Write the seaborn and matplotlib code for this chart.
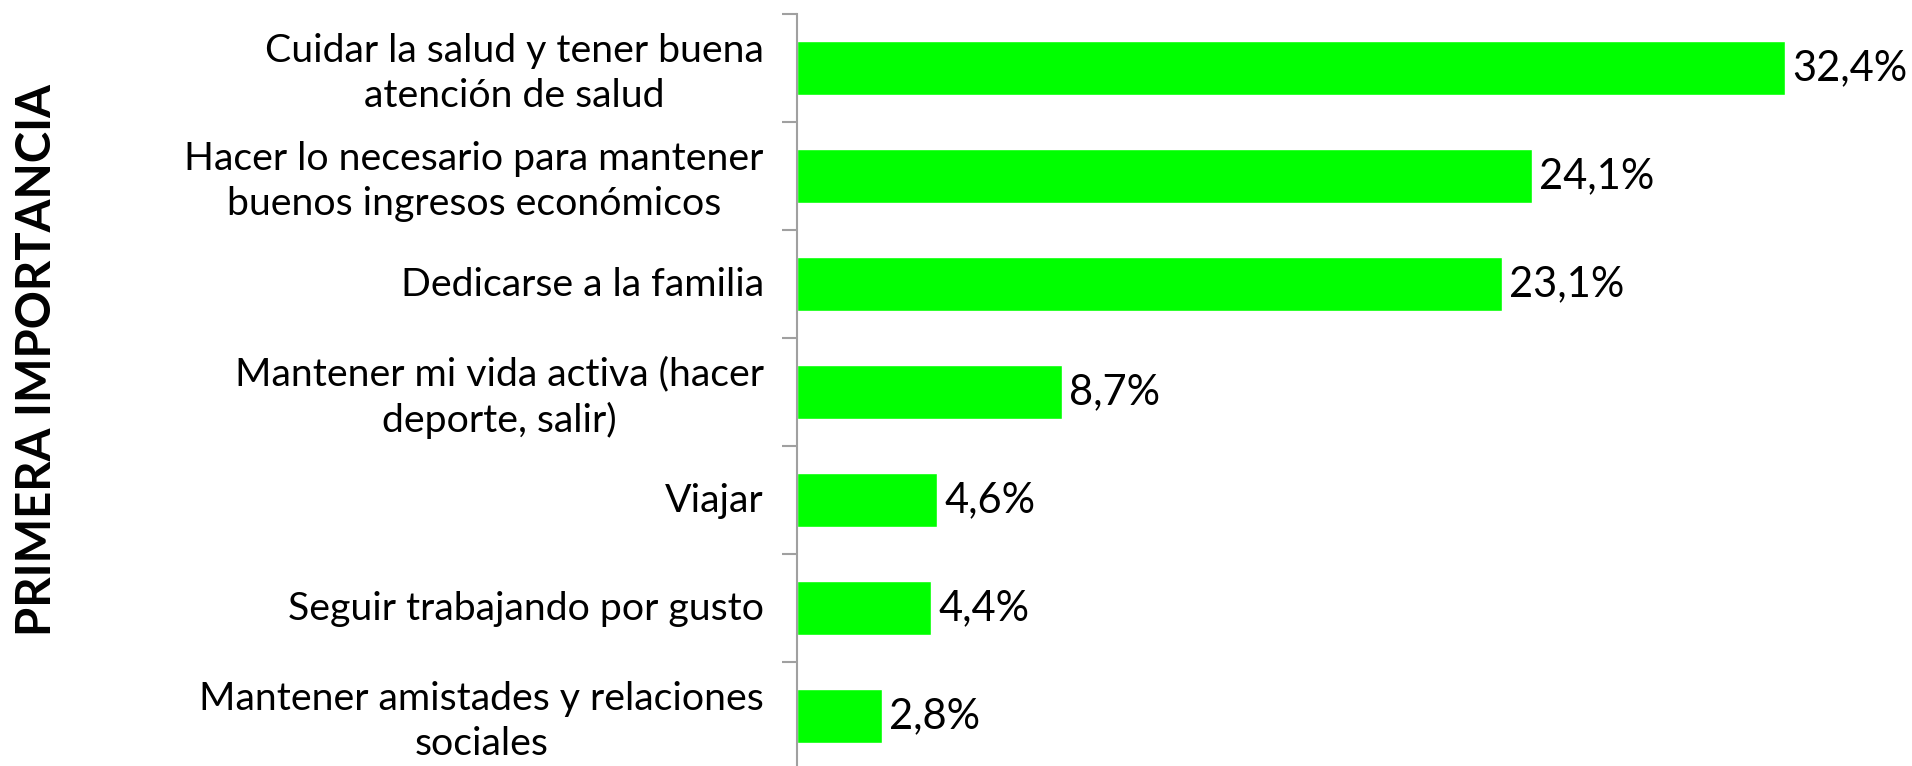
import matplotlib
matplotlib.use("Agg")
import matplotlib.pyplot as plt
import matplotlib.transforms as mtransforms
import seaborn as sns
import pandas as pd

categories = [
    "Cuidar la salud y tener buena\natención de salud",
    "Hacer lo necesario para mantener\nbuenos ingresos económicos",
    "Dedicarse a la familia",
    "Mantener mi vida activa (hacer\ndeporte, salir)",
    "Viajar",
    "Seguir trabajando por gusto",
    "Mantener amistades y relaciones\nsociales",
]
values = [32.4, 24.1, 23.1, 8.7, 4.6, 4.4, 2.8]
value_labels = ["32,4%", "24,1%", "23,1%", "8,7%", "4,6%", "4,4%", "2,8%"]
axis_title = "PRIMERA IMPORTANCIA"

sns.set_theme(style="white")
plt.rcParams["font.family"] = ["Lato", "DejaVu Sans"]

df = pd.DataFrame({"cat": categories, "val": values})

W, H = 1912, 766
fig = plt.figure(figsize=(W / 100, H / 100), dpi=100)
ax_left = 797 / W
ax_top = 1 - 14 / H
ax_bottom = (H - 770) / H
ax = fig.add_axes([ax_left, ax_bottom, 1 - ax_left, ax_top - ax_bottom])

sns.barplot(data=df, y="cat", x="val", color="#00FF00", saturation=1,
            width=0.5, orient="h", ax=ax)

ax.set_xlim(0, (W - 797) / 30.5)
ax.set_ylim(len(categories) - 0.5, -0.5)
ax.set_xticks([])
ax.set_yticks([i - 0.5 for i in range(len(categories) + 1)], minor=False)
ax.set_yticklabels([])
ax.set_yticks(range(len(categories)), minor=True)
ax.set_yticklabels(categories, minor=True, fontsize=28.3, color="black",
                   linespacing=1.33, ha="right")
ax.tick_params(axis="y", which="major", length=11, width=1.5, color="#a0a0a0",
               left=True, direction="out")
ax.tick_params(axis="y", which="minor", length=0, pad=24, left=True)
shift = mtransforms.ScaledTranslation(0, 3 / 100, fig.dpi_scale_trans)
for t in ax.get_yticklabels(minor=True):
    t.set_multialignment("center")
    t.set_transform(t.get_transform() + shift)

for s in ["top", "right", "bottom"]:
    ax.spines[s].set_visible(False)
ax.spines["left"].set_color("#a0a0a0")
ax.spines["left"].set_linewidth(1.5)
ax.set_xlabel("")
ax.set_ylabel("")

for i, (v, lab) in enumerate(zip(values, value_labels)):
    ax.annotate(lab, xy=(v, i), xytext=(7, 0), textcoords="offset pixels",
                ha="left", va="center", fontsize=30, color="black")

fig.text(37 / W, 1 - 360 / H, axis_title, rotation=90, ha="center", va="center",
         fontsize=34, fontweight="bold", color="black")

fig.savefig("out.png", dpi=100, facecolor="white")
